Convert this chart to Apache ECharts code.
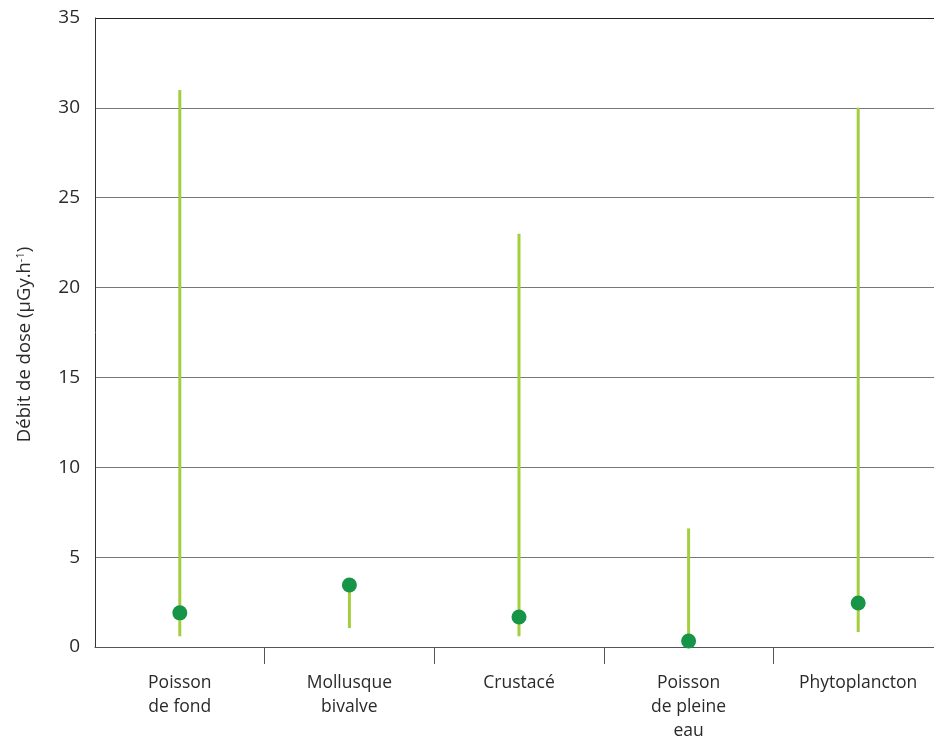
<!DOCTYPE html>
<html>
<head>
<meta charset="utf-8">
<script src="https://cdn.jsdelivr.net/npm/echarts@6/dist/echarts.min.js"></script>
<style>
  html, body { margin: 0; padding: 0; background: #fff; }
  #chart { width: 934px; height: 745px; }
</style>
</head>
<body>
<div id="chart"></div>
<script>
// catégories et valeurs (µGy/h)
var categories = ['Poisson\nde fond', 'Mollusque\nbivalve', 'Crustacé', 'Poisson\nde pleine\neau', 'Phytoplancton'];
var minValues = [0.6, 1.05, 0.6, 0.3, 0.83];
var maxValues = [31, 3.45, 23, 6.6, 30];
var meanValues = [1.9, 3.45, 1.67, 0.33, 2.45];

(function () {
  var rangeData = categories.map(function (c, i) {
    return [i, minValues[i], maxValues[i]];
  });

  var option = {
    animation: false,
    textStyle: { fontFamily: 'Open Sans' },
    grid: {
      left: 95,
      width: 848,   // la grille dépasse un peu à droite
      top: 18,
      bottom: 98,
      outerBoundsMode: 'none'
    },
    xAxis: {
      type: 'category',
      data: categories,
      axisLine: { lineStyle: { color: '#555', width: 1 } },
      axisTick: {
        show: true,
        alignWithLabel: false,
        length: 17,
        // pas de tick au bord gauche
        interval: function (index) { return index > 0; },
        lineStyle: { color: '#555' }
      },
      axisLabel: {
        color: '#2a2a2a',
        fontSize: 17.5,
        lineHeight: 24,
        margin: 24
      }
    },
    yAxis: {
      type: 'value',
      min: 0,
      max: 35,
      interval: 5,
      name: 'Débit de dose (µGy.h{sup|-1})',
      nameLocation: 'middle',
      nameGap: 60,
      nameRotate: 90,
      nameTextStyle: {
        color: '#2a2a2a',
        fontSize: 18.5,
        padding: [0, 24, 0, 0],
        rich: {
          sup: { fontSize: 11, verticalAlign: 'top', padding: [0, 0, 9, 0], color: '#2a2a2a' }
        }
      },
      axisLine: { show: true, lineStyle: { color: '#333' } },
      axisTick: { show: false },
      axisLabel: { color: '#2a2a2a', fontSize: 19, margin: 15 },
      splitLine: {
        lineStyle: {
          // la ligne du haut est plus foncée
          color: ['#777', '#777', '#777', '#777', '#777', '#777', '#777', '#222'],
          width: 1
        }
      }
    },
    series: [
      {
        // barres min-max
        type: 'custom',
        data: rangeData,
        renderItem: function (params, api) {
          var low = api.coord([api.value(0), api.value(1)]);
          var high = api.coord([api.value(0), api.value(2)]);
          return {
            type: 'line',
            shape: { x1: low[0], y1: low[1], x2: high[0], y2: high[1] },
            style: { stroke: '#a3cf3e', lineWidth: 3 }
          };
        },
        z: 2
      },
      {
        type: 'scatter',
        data: meanValues,
        symbol: 'circle',
        symbolSize: 15,
        itemStyle: { color: '#169447', opacity: 1 },
        z: 3
      }
    ]
  };

  var myChart = echarts.init(document.getElementById('chart'));
  myChart.setOption(option);
})();
</script>
</body>
</html>
